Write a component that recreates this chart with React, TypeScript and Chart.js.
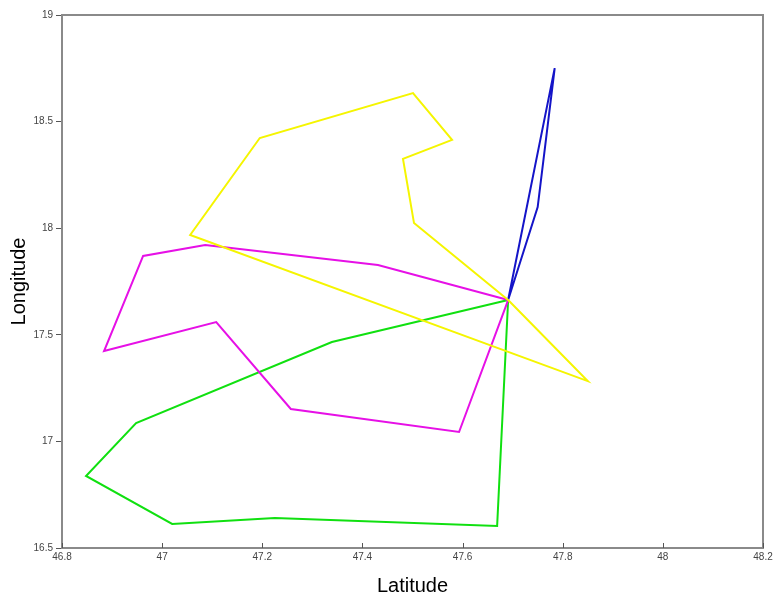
import React, { useEffect, useRef } from "react";
import { Chart, registerables } from "chart.js";

Chart.register(...registerables);

const yellowLat = [47.691, 47.85, 47.056, 47.195, 47.501, 47.579, 47.481, 47.503, 47.691];
const yellowLon = [17.663, 17.283, 17.968, 18.423, 18.634, 18.414, 18.325, 18.024, 17.663];

const magentaLat = [47.691, 47.431, 47.086, 46.962, 46.884, 47.108, 47.257, 47.593, 47.691];
const magentaLon = [17.663, 17.827, 17.921, 17.87, 17.424, 17.56, 17.152, 17.044, 17.663];

const greenLat = [47.691, 47.339, 46.948, 46.848, 47.02, 47.225, 47.669, 47.691];
const greenLon = [17.663, 17.466, 17.086, 16.838, 16.613, 16.641, 16.603, 17.663];

const blueLat = [47.691, 47.784, 47.75, 47.691];
const blueLon = [17.663, 18.751, 18.099, 17.663];

const xTicks = [46.8, 47, 47.2, 47.4, 47.6, 47.8, 48, 48.2];
const yTicks = [16.5, 17, 17.5, 18, 18.5, 19];

const pts = (xs: number[], ys: number[]) => xs.map((x, i) => ({ x, y: ys[i] }));

const boxPlugin = {
  id: "box",
  afterDraw(chart: any) {
    const { ctx, chartArea, scales } = chart;
    ctx.save();
    ctx.strokeStyle = "#8a8a8a";
    ctx.lineWidth = 2;
    ctx.strokeRect(chartArea.left, chartArea.top, chartArea.right - chartArea.left, chartArea.bottom - chartArea.top);
    ctx.lineWidth = 1;
    ctx.strokeStyle = "#555";
    ctx.beginPath();
    xTicks.forEach((v) => {
      const px = Math.round(scales.x.getPixelForValue(v)) + 0.5;
      ctx.moveTo(px, chartArea.bottom);
      ctx.lineTo(px, chartArea.bottom - 5);
    });
    ctx.stroke();
    ctx.restore();
  },
};

export default function App() {
  const ref = useRef<HTMLCanvasElement>(null);
  useEffect(() => {
    const fmt = (v: any) => String(Number(Number(v).toFixed(1)));
    const mk = (label: string, xs: number[], ys: number[], color: string) => ({
      label,
      data: pts(xs, ys),
      showLine: true,
      borderColor: color,
      backgroundColor: color,
      borderWidth: 2,
      pointRadius: 0,
      tension: 0,
    });
    const chart = new Chart(ref.current as HTMLCanvasElement, {
      type: "scatter",
      data: {
        datasets: [
          mk("yellow", yellowLat, yellowLon, "#f5f500"),
          mk("magenta", magentaLat, magentaLon, "#e610e6"),
          mk("green", greenLat, greenLon, "#10e010"),
          mk("blue", blueLat, blueLon, "#1414c8"),
        ],
      },
      options: {
        animation: false,
        responsive: false,
        layout: { padding: { top: 15, right: 14, left: 0, bottom: 0 } },
        plugins: { legend: { display: false }, tooltip: { enabled: false } },
        scales: {
          x: {
            type: "linear",
            min: 46.8,
            max: 48.2,
            afterBuildTicks: (s: any) => { s.ticks = xTicks.map((v) => ({ value: v })); },
            afterFit: (s: any) => { s.height = 47; },
            ticks: { callback: fmt, color: "#444", font: { family: "Liberation Sans", size: 10 }, maxRotation: 0, padding: 3 },
            grid: { display: false, drawOnChartArea: false, tickLength: 0 },
            border: { display: false },
            title: { display: true, text: "Latitude", color: "#000", font: { family: "Liberation Sans", size: 20 }, padding: { top: 6, bottom: -3 } },
          },
          y: {
            type: "linear",
            min: 16.5,
            max: 19,
            afterBuildTicks: (s: any) => { s.ticks = yTicks.map((v) => ({ value: v })); },
            afterFit: (s: any) => { s.width = 62; },
            ticks: { callback: fmt, color: "#444", font: { family: "Liberation Sans", size: 10 }, padding: 3 },
            grid: { display: true, drawOnChartArea: false, tickLength: 6, color: "#555" },
            border: { display: false },
            title: { display: true, text: "Longitude", color: "#000", font: { family: "Liberation Sans", size: 20 }, padding: { top: 7, bottom: 2 } },
          },
        },
      },
      plugins: [boxPlugin],
    });
    return () => chart.destroy();
  }, []);
  return (
    <div style={{ position: "fixed", left: 0, top: 0, width: 777, height: 595, background: "#fff" }}>
      <canvas ref={ref} width={777} height={595} style={{ width: 777, height: 595 }} />
    </div>
  );
}
